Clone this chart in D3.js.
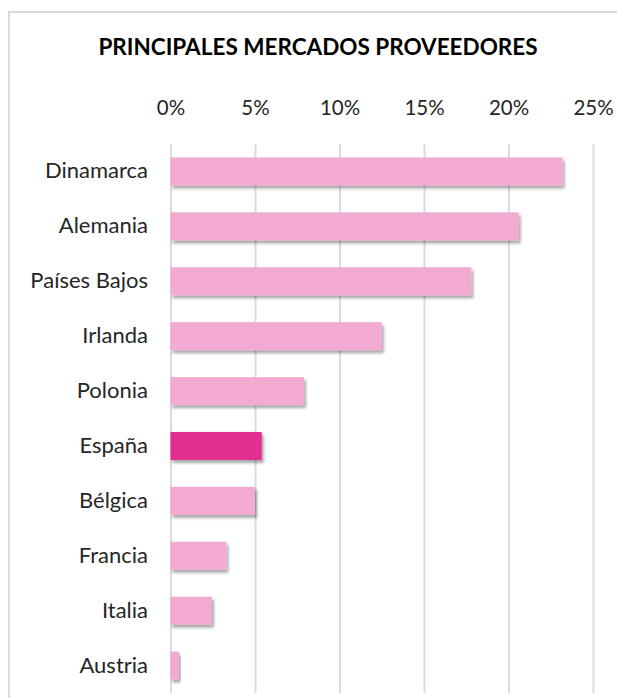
<!DOCTYPE html>
<html>
<head>
<meta charset="utf-8">
<script src="https://cdn.jsdelivr.net/npm/d3@7"></script>
<style>
	body { margin: 0; background: #fff; }
	svg { display: block; font-family: Lato, "Open Sans", sans-serif; }
	.tick text { fill: #262626; }
</style>
</head>
<body>
<svg id="chart" width="617" height="698"></svg>
<script>
// chart data
var countries = ["Dinamarca", "Alemania", "Países Bajos", "Irlanda", "Polonia", "España", "Bélgica", "Francia", "Italia", "Austria"];
var shares = [0.232, 0.206, 0.178, 0.125, 0.079, 0.054, 0.050, 0.033, 0.0245, 0.005];
var tickValues = [0, 0.05, 0.10, 0.15, 0.20, 0.25];
var highlight = "España";

var svg = d3.select("#chart");

// drop shadow for the bars
var defs = svg.append("defs");
var f = defs.append("filter").attr("id", "shadow")
	.attr("x", "-10%").attr("y", "-20%").attr("width", "130%").attr("height", "160%");
f.append("feDropShadow")
	.attr("dx", 2).attr("dy", 3).attr("stdDeviation", 1.8)
	.attr("flood-color", "#000").attr("flood-opacity", 0.35);

// outer frame
svg.append("rect")
	.attr("x", 9).attr("y", 12)
	.attr("width", 640).attr("height", 720)
	.attr("fill", "none")
	.attr("stroke", "#d9d9d9")
	.attr("stroke-width", 2);

// title
svg.append("text")
	.attr("x", 318).attr("y", 55)
	.attr("text-anchor", "middle")
	.style("font-size", "22.5px")
	.style("font-weight", "bold")
	.style("fill", "#000")
	.text("PRINCIPALES MERCADOS PROVEEDORES");

var plotTop = 144, plotBottom = 693;

var x = d3.scaleLinear()
	.domain([0, 0.25])
	.range([170.5, 593]);
var y = d3.scaleBand()
	.domain(countries)
	.range([plotTop, plotBottom])
	.paddingInner(0.49)
	.paddingOuter(0.245);

// gridlines
svg.append("g")
	.attr("transform", "translate(0," + plotTop + ")")
	.call(d3.axisBottom(x).tickValues(tickValues).tickSize(plotBottom - plotTop).tickFormat(""))
	.call(function(g) { g.select(".domain").remove(); })
	.selectAll("line")
		.attr("stroke", "#dadae0")
		.attr("stroke-width", 2);

// x axis labels (top)
svg.append("g")
	.attr("transform", "translate(0,118)")
	.call(d3.axisTop(x).tickValues(tickValues).tickSize(0).tickFormat(d3.format(".0%")))
	.call(function(g) { g.select(".domain").remove(); })
	.selectAll("text")
		.style("font-size", "20.5px")
		.style("font-family", "Lato, sans-serif");

// bars
svg.selectAll("rect.bar")
	.data(countries)
	.enter()
	.append("rect")
		.attr("class", "bar")
		.attr("x", x(0))
		.attr("y", function(d) { return y(d); })
		.attr("width", function(d, i) { return x(shares[i]) - x(0); })
		.attr("height", y.bandwidth())
		.attr("fill", function(d) { return d == highlight ? "#e32d91" : "#f2aad3"; })
		.attr("filter", "url(#shadow)");

// y axis labels
svg.append("g")
	.attr("transform", "translate(157,0)")
	.call(d3.axisLeft(y).tickSize(0))
	.call(function(g) { g.select(".domain").remove(); })
	.selectAll("text")
		.attr("x", -9)
		.style("font-size", "22px")
		.style("font-family", "Lato, sans-serif");
</script>
</body>
</html>
